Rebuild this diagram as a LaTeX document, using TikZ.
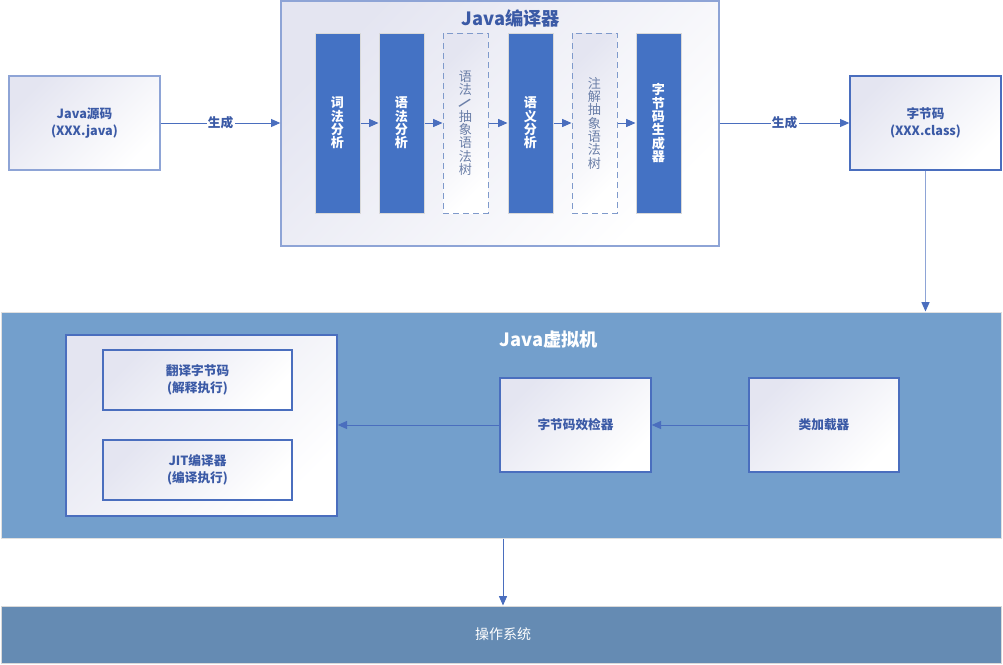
\documentclass[tikz,border=0pt]{standalone}
\usepackage{fontspec}
\setmainfont{Noto Sans CJK SC}
\usetikzlibrary{fit,arrows.meta}
\definecolor{bord}{HTML}{4A6EBE}
\definecolor{lbord}{HTML}{8EA4D6}
\definecolor{txt}{HTML}{3B5AA6}
\definecolor{dark}{HTML}{4472C4}
\definecolor{lav}{HTML}{E4E5F1}
\definecolor{jvm}{HTML}{739FCC}
\definecolor{os}{HTML}{658BB3}
\definecolor{dsh}{HTML}{7F9ACB}
\definecolor{dtxt}{HTML}{6B7FA8}
\tikzset{
  grad/.style={top color=lav, bottom color=white, shading angle=45},
  box/.style={draw=bord, line width=1pt, grad, inner sep=0pt},
  lbox/.style={box, draw=lbord},
  darkbox/.style={fill=dark, draw=black!15, line width=0.75pt, inner sep=0pt},
  dbox/.style={draw=dsh, dashed, dash pattern=on 4.5pt off 3pt, line width=0.75pt, grad, inner sep=0pt},
  btext/.style={inner sep=0pt, align=center, text=txt, font=\fontsize{9.5}{12.5}\selectfont\bfseries},
  vtext/.style={inner sep=0pt, align=center, text=white, font=\fontsize{9.8}{10}\selectfont\bfseries},
  dtext/.style={inner sep=0pt, align=center, text=dtxt, font=\fontsize{9.8}{10}\selectfont},
  arr/.style={draw=bord, line width=0.75pt, -{Triangle[length=7pt,width=6pt]}},
  lbl/.style={fill=white, inner sep=1pt, text=txt, font=\fontsize{9.5}{11}\selectfont\bfseries},
  ttl/.style={font=\fontsize{13.7}{15}\selectfont\bfseries}
}
\begin{document}
\begin{tikzpicture}[x=0.75pt,y=-0.75pt]
\useasboundingbox (0,0) rectangle (1003,664);
% top row
\node[lbox, fit={(9,76) (160,170)}] (src) {};
\node[btext] (srct) at (src.center) {Java源码\\(XXX.java)};
\node[lbox, fit={(281,1) (719,246)}] (comp) {};
\node[ttl, text=txt] (ctitle) at (511,18) {Java编译器};
\node[darkbox, fit={(315,33) (360,213)}] (b1) {};
\node[vtext] (b1t) at (b1.center) {词\\法\\分\\析};
\node[darkbox, fit={(379,33) (424,213)}] (b2) {};
\node[vtext] (b2t) at (b2.center) {语\\法\\分\\析};
\node[dbox, fit={(443,33) (488,213)}] (b3) {};
\node[dtext] (b3t) at (b3.center) {语\\法\\\smash{\rotatebox[origin=c]{-45}{\bfseries /}}\\抽\\象\\语\\法\\树};
\node[darkbox, fit={(508,33) (553,213)}] (b4) {};
\node[vtext] (b4t) at (b4.center) {语\\义\\分\\析};
\node[dbox, fit={(572,33) (617,213)}] (b5) {};
\node[dtext] (b5t) at (b5.center) {注\\解\\抽\\象\\语\\法\\树};
\node[darkbox, fit={(636,33) (681,213)}] (b6) {};
\node[vtext] (b6t) at (b6.center) {字\\节\\码\\生\\成\\器};
\node[box, fit={(850,76) (1001,170)}] (bc) {};
\node[btext] (bct) at (bc.center) {字节码\\(XXX.class)};
\draw[arr] (b1) -- (b2);
\draw[arr] (b2) -- (b3);
\draw[arr] (b3) -- (b4);
\draw[arr] (b4) -- (b5);
\draw[arr] (b5) -- (b6);
\draw[arr] (src.east) -- node[lbl] (l1) {生成} (src.east -| comp.west);
\draw[arr] (bc.west -| comp.east) -- node[lbl] (l2) {生成} (bc.west);
% JVM
\node[fill=jvm, draw=black!12, line width=0.75pt, inner sep=0pt, fit={(1,312) (1001,538)}] (jvm) {};
\draw[draw=lbord, line width=0.75pt, -{Triangle[length=7pt,width=6pt,fill=bord,color=bord]}] (bc.south) -- (bc.south |- jvm.north);
\node[ttl, text=white] (jtitle) at (549,340) {Java虚拟机};
\node[box, fit={(66,335) (337,516)}] (cont) {};
\node[box, fit={(103,350) (292,410)}] (interp) {};
\node[btext] (interpt) at (interp.center) {翻译字节码\\(解释执行)};
\node[box, fit={(103,440) (292,500)}] (jit) {};
\node[btext] (jitt) at (jit.center) {JIT编译器\\(编译执行)};
\node[box, fit={(500,378) (651,472)}] (ver) {};
\node[btext] (vert) at (ver.center) {字节码效检器};
\node[box, fit={(749,378) (899,472)}] (load) {};
\node[btext] (loadt) at (load.center) {类加载器};
\draw[arr] (load.west) -- (ver.east);
\draw[arr] (ver.west) -- (ver.west -| cont.east);
% OS
\node[fill=os, draw=black!15, line width=0.75pt, inner sep=0pt, fit={(1,606) (1001,663)}] (os) {};
\node[inner sep=0pt, text=white, font=\fontsize{10.5}{12}\selectfont] (ost) at (503,634) {操作系统};
\draw[arr] ([xshift=1.5pt]jvm.south) -- ([xshift=1.5pt]os.north);
\end{tikzpicture}
\end{document}
